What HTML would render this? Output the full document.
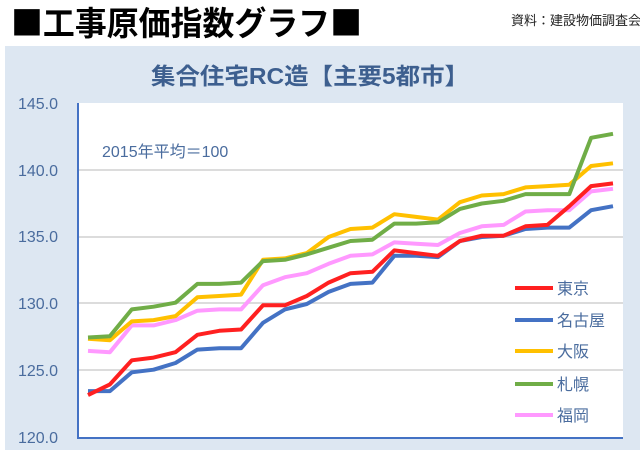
<!DOCTYPE html>
<html><head><meta charset="utf-8"><style>
body{margin:0;width:640px;height:450px;overflow:hidden;background:#fff;font-family:"Liberation Sans","Noto Sans CJK JP",sans-serif;}
</style></head><body>
<svg width="640" height="450" xmlns="http://www.w3.org/2000/svg" style="position:absolute;left:0;top:0">
<rect x="0" y="0" width="640" height="450" fill="#fff"/>
<text x="11" y="35" font-size="33" font-weight="bold" fill="#000" textLength="351" lengthAdjust="spacingAndGlyphs" font-family="Noto Sans CJK JP,sans-serif">■工事原価指数グラフ■</text>
<text x="511" y="25" font-size="13" fill="#222" font-family="Liberation Sans,Noto Sans CJK JP,sans-serif">資料：建設物価調査会</text>
<rect x="5" y="46" width="635" height="404" fill="#dde7f2"/>
<text x="151" y="84" font-size="23" font-weight="bold" fill="#3d5f8f" textLength="318" lengthAdjust="spacingAndGlyphs" font-family="Liberation Sans,Noto Sans CJK JP,sans-serif">集合住宅RC造【主要5都市】</text>
<rect x="78" y="103" width="545" height="335" fill="#fff"/>
<g stroke="#d0d0d0" stroke-width="1.5">
<line x1="78" y1="170" x2="623" y2="170"/><line x1="78" y1="237" x2="623" y2="237"/><line x1="78" y1="303" x2="623" y2="303"/><line x1="78" y1="370" x2="623" y2="370"/>
</g>
<g font-size="16" fill="#4a6c9e" text-anchor="end" font-family="Liberation Sans,sans-serif">
<text x="58" y="109">145.0</text><text x="58" y="176">140.0</text><text x="58" y="242">135.0</text><text x="58" y="309">130.0</text><text x="58" y="376">125.0</text><text x="58" y="443">120.0</text>
</g>
<text x="102" y="157" font-size="16" fill="#4a6c9e" font-family="Liberation Sans,Noto Sans CJK JP,sans-serif">2015年平均＝100</text>
<g fill="none" stroke-width="4" stroke-linejoin="round" id="g"></g>
<line x1="78" y1="103" x2="78" y2="439" stroke="#4472c4" stroke-width="2"/>
<line x1="77" y1="438" x2="623" y2="438" stroke="#4472c4" stroke-width="2"/>
<g stroke-width="4">
<line x1="515" y1="288" x2="553" y2="288" stroke="#ff2020"/>
<line x1="515" y1="320" x2="553" y2="320" stroke="#4472c4"/>
<line x1="515" y1="351" x2="553" y2="351" stroke="#ffc000"/>
<line x1="515" y1="384" x2="553" y2="384" stroke="#70ad47"/>
<line x1="515" y1="415" x2="553" y2="415" stroke="#ff99ff"/>
</g>
<g font-size="16" fill="#4a6c9e" font-family="Liberation Sans,Noto Sans CJK JP,sans-serif">
<text x="557" y="294">東京</text><text x="557" y="326">名古屋</text><text x="557" y="357">大阪</text><text x="557" y="390">札幌</text><text x="557" y="421">福岡</text>
</g>
</svg>
<script>
var d={
"#4472c4":[123.5,123.5,124.9,125.1,125.6,126.6,126.7,126.7,128.6,129.6,130.0,130.9,131.5,131.6,133.6,133.6,133.5,134.7,135.0,135.1,135.6,135.7,135.7,137.0,137.3],
"#ff99ff":[126.5,126.4,128.4,128.4,128.8,129.5,129.6,129.6,131.4,132.0,132.3,133.0,133.6,133.7,134.6,134.5,134.4,135.3,135.8,135.9,136.9,137.0,137.0,138.4,138.6],
"#ffc000":[127.4,127.3,128.7,128.8,129.1,130.5,130.6,130.7,133.3,133.4,133.8,135.0,135.6,135.7,136.7,136.5,136.3,137.6,138.1,138.2,138.7,138.8,138.9,140.3,140.5],
"#70ad47":[127.5,127.6,129.6,129.8,130.1,131.5,131.5,131.6,133.2,133.3,133.7,134.2,134.7,134.8,136.0,136.0,136.1,137.1,137.5,137.7,138.2,138.2,138.2,142.4,142.7],
"#ff2020":[123.2,124.0,125.8,126.0,126.4,127.7,128.0,128.1,129.9,129.9,130.6,131.6,132.3,132.4,134.0,133.8,133.6,134.7,135.1,135.1,135.8,135.9,137.3,138.8,139.0]};
var g=document.getElementById('g'),s='';
for(var c in d){var p=d[c].map(function(v,i){return (88+i*21.875).toFixed(1)+','+(103+(145-v)*13.4).toFixed(1)}).join(' ');
s+='<polyline points="'+p+'" stroke="'+c+'"/>';}
g.innerHTML=s;
</script>
</body></html>
